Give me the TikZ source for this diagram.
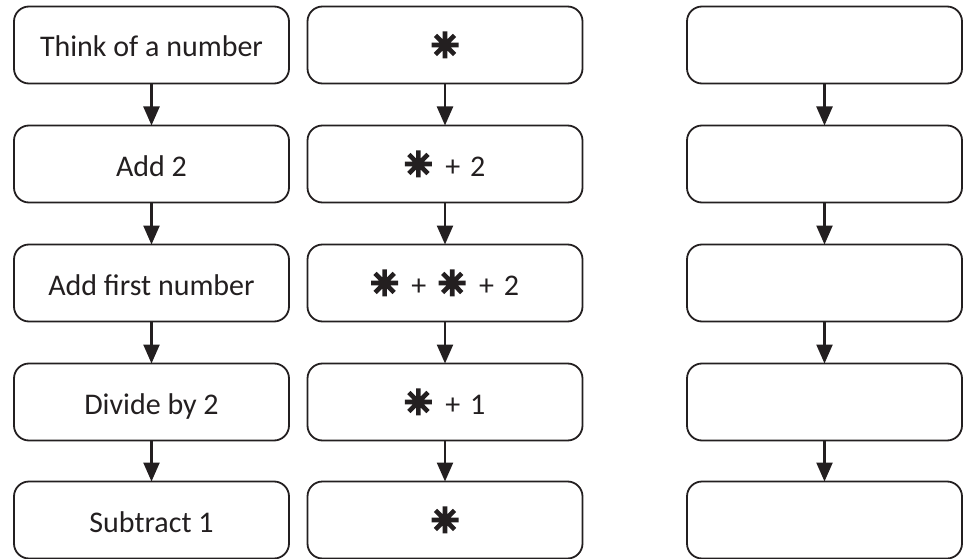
\documentclass[tikz,border=0pt]{standalone}
\usepackage{fontspec}
\setmainfont{Carlito}
\newfontfamily\symfont[FakeBold=9]{DejaVu Sans Bold}
\usetikzlibrary{arrows.meta}
\definecolor{ink}{HTML}{231F20}
\tikzset{
  box/.style={draw=ink, line width=1.8pt, rounded corners=15pt, minimum width=275pt, minimum height=77pt, inner sep=0pt, font=\fontsize{30}{32}\selectfont, text=ink, text height=27pt, text depth=3pt},
  flow/.style={draw=ink, line width=2.4pt, -{Triangle[length=19pt,width=16pt]}, shorten >=-0.9pt},
}
\newcommand{\mystar}{{\symfont\fontsize{33}{33}\selectfont ✳}}
\begin{document}
\begin{tikzpicture}[x=1pt,y=-1pt]
\useasboundingbox (0,0) rectangle (964,559);
\foreach \c/\xx in {a/151.5,b/445,c/824.5}{
  \foreach \r/\yy in {1/45,2/164,3/283,4/402,5/520}{
    \coordinate (p\c\r) at (\xx,\yy);
  }
}
\node[box] (a1) at (pa1) {Think of a number};
\node[box] (a2) at (pa2) {Add 2};
\node[box] (a3) at (pa3) {Add first number};
\node[box] (a4) at (pa4) {Divide by 2};
\node[box] (a5) at (pa5) {Subtract 1};
\node[box] (b1) at (pb1) {\mystar};
\node[box] (b2) at (pb2) {\mystar\hspace{13pt}+\hspace{10pt}2};
\node[box] (b3) at (pb3) {\mystar\hspace{13pt}+\hspace{12pt}\mystar\hspace{13pt}+\hspace{10pt}2};
\node[box] (b4) at (pb4) {\mystar\hspace{13pt}+\hspace{10pt}1};
\node[box] (b5) at (pb5) {\mystar};
\foreach \r in {1,...,5}{\node[box] (c\r) at (pc\r) {};}
\foreach \c in {a,b,c}{
  \draw[flow] (\c1) -- (\c2);
  \draw[flow] (\c2) -- (\c3);
  \draw[flow] (\c3) -- (\c4);
  \draw[flow] (\c4) -- (\c5);
}
\end{tikzpicture}
\end{document}
